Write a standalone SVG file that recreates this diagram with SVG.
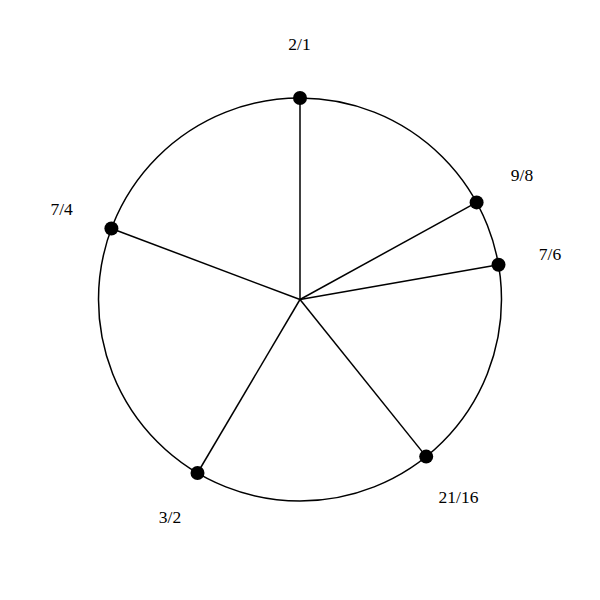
<svg xmlns="http://www.w3.org/2000/svg" width="600" height="600" viewBox="0 0 600 600">
<style>
.ring{fill:none;stroke:#000;stroke-width:1.5}
.spoke{stroke:#000;stroke-width:1.5}
.dot{fill:#000}
.lbl{font-family:"Liberation Serif","Times New Roman",serif;font-size:17.5px;fill:#000;text-anchor:middle}
</style>
<rect width="600" height="600" fill="#fff"/>
<circle class="ring" cx="300" cy="299.5" r="201.5"/>
<g id="connectors">
<line class="spoke" x1="300" y1="299.5" x2="300" y2="98"/>
<line class="spoke" x1="300" y1="299.5" x2="476.6" y2="202.4"/>
<line class="spoke" x1="300" y1="299.5" x2="498.5" y2="264.7"/>
<line class="spoke" x1="300" y1="299.5" x2="426.2" y2="456.6"/>
<line class="spoke" x1="300" y1="299.5" x2="197.5" y2="473"/>
<line class="spoke" x1="300" y1="299.5" x2="111.4" y2="228.5"/>
</g>
<g id="n-2-1"><circle class="dot" cx="300" cy="98" r="7"/><text class="lbl" x="299.5" y="49.5">2/1</text></g>
<g id="n-9-8"><circle class="dot" cx="476.6" cy="202.4" r="7"/><text class="lbl" x="522" y="181">9/8</text></g>
<g id="n-7-6"><circle class="dot" cx="498.5" cy="264.7" r="7"/><text class="lbl" x="550" y="260">7/6</text></g>
<g id="n-21-16"><circle class="dot" cx="426.2" cy="456.6" r="7"/><text class="lbl" x="458.5" y="502.5">21/16</text></g>
<g id="n-3-2"><circle class="dot" cx="197.5" cy="473" r="7"/><text class="lbl" x="170" y="522.5">3/2</text></g>
<g id="n-7-4"><circle class="dot" cx="111.4" cy="228.5" r="7"/><text class="lbl" x="61.7" y="214.5">7/4</text></g>
</svg>
